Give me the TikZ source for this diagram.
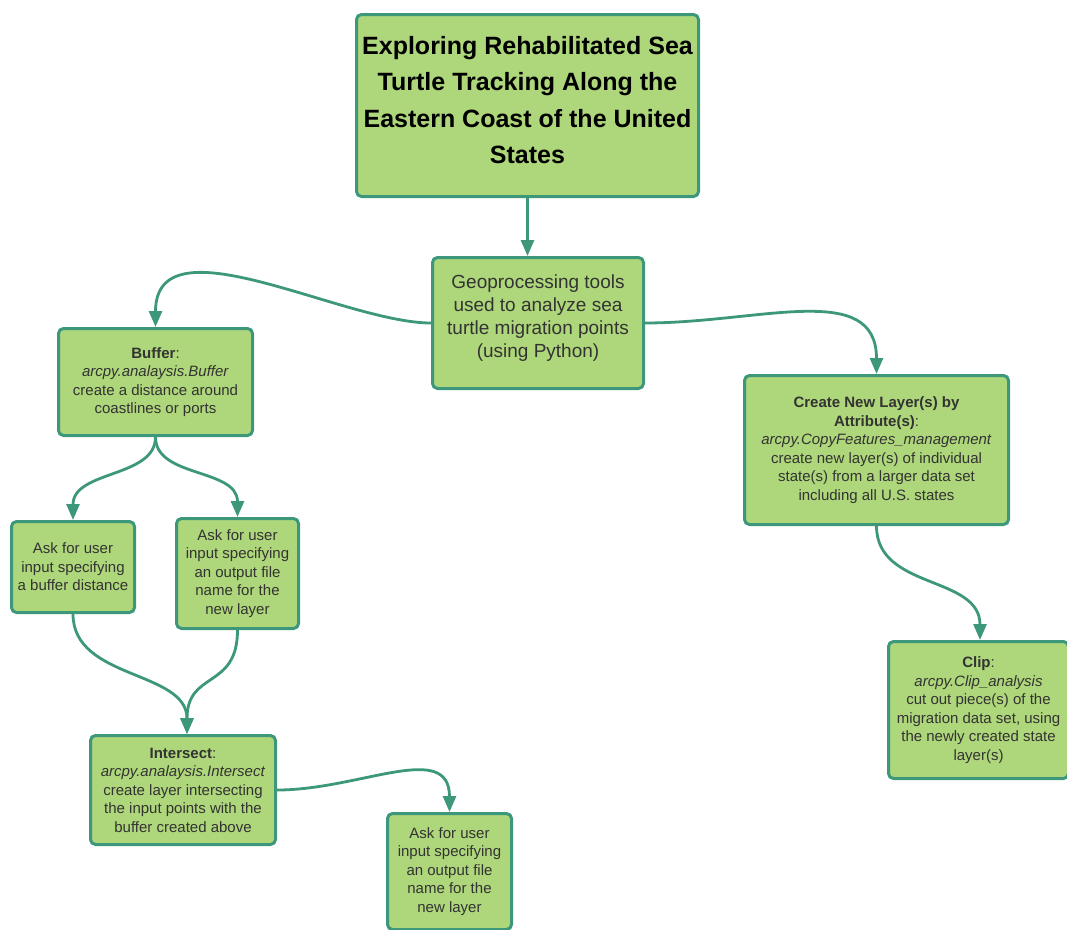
\documentclass[tikz,border=0pt]{standalone}
\usepackage{fontspec}
\setmainfont{Liberation Sans}
\usetikzlibrary{arrows.meta}
\definecolor{boxfill}{HTML}{AED67A}
\definecolor{boxline}{HTML}{3D977B}
\definecolor{txt}{HTML}{333333}
\tikzset{
  box/.style={draw=boxline, fill=boxfill, line width=3pt, rounded corners=5pt,
    align=center, inner sep=0pt, text=txt,
    font=\fontsize{15}{18.5}\selectfont},
  conn/.style={draw=boxline, line width=2.8pt,
    -{Triangle[length=16pt,width=13pt]}},
}
\begin{document}
\begin{tikzpicture}[x=1pt,y=-1pt]
\useasboundingbox (0,0) rectangle (1067,929);

\node[box, minimum width=342pt, minimum height=182pt, text=black,
  font=\bfseries\fontsize{25}{36.5}\selectfont] (title) at (527.5,105.5)
  {Exploring Rehabilitated Sea\\Turtle Tracking Along the\\Eastern Coast of the United\\States\rule[-11pt]{0pt}{0pt}};

\node[box, minimum width=211pt, minimum height=131pt,
  font=\fontsize{19}{23}\selectfont] (geo) at (538,323)
  {Geoprocessing tools\\used to analyze sea\\turtle migration points\\(using Python)\rule[-13pt]{0pt}{0pt}};

\node[box, minimum width=194pt, minimum height=107pt] (buffer) at (155.5,382)
  {\textbf{Buffer}:\\\textit{arcpy.analaysis.Buffer}\\create a distance around\\coastlines or ports};

\node[box, minimum width=123pt, minimum height=91pt] (ask1) at (73,567)
  {Ask for user\\input specifying\\a buffer distance};

\node[box, minimum width=122pt, minimum height=110pt] (ask2) at (237.5,573.5)
  {Ask for user\\input specifying\\an output file\\name for the\\new layer};

\node[box, minimum width=185pt, minimum height=109pt] (inter) at (183,790)
  {\textbf{Intersect}:\\\textit{arcpy.analaysis.Intersect}\\create layer intersecting\\the input points with the\\buffer created above};

\node[box, minimum width=124pt, minimum height=116pt] (ask3) at (449.5,871.5)
  {Ask for user\\input specifying\\an output file\\name for the\\new layer};

\node[box, minimum width=264pt, minimum height=149pt] (create) at (876.5,450)
  {\textbf{Create New Layer(s) by}\\\textbf{Attribute(s)}:\\\textit{arcpy.CopyFeatures\_management}\\create new layer(s) of individual\\state(s) from a larger data set\\including all U.S. states};

\node[box, minimum width=180pt, minimum height=137pt] (clip) at (978.5,710)
  {\textbf{Clip}:\\\textit{arcpy.Clip\_analysis}\\cut out piece(s) of the\\migration data set, using\\the newly created state\\layer(s)};

\draw[conn] (title.south) -- (title.south |- geo.north);
\draw[conn] (geo.west) .. controls +(-88,0) and +(0,-110) .. (buffer.north);
\draw[conn] (geo.east) .. controls +(115,0) and +(0,-94) .. (create.north);
\draw[conn] (buffer.south) .. controls +(0,41) and +(0,-50) .. (ask1.north);
\draw[conn] (buffer.south) .. controls +(0,41) and +(0,-49) .. (ask2.north);
\draw[conn] (ask1.south) .. controls +(0,66) and +(0,-64) .. ([xshift=4pt]inter.north);
\draw[conn] (ask2.south) .. controls +(0,60) and +(0,-64) .. ([xshift=4pt]inter.north);
\draw[conn] (inter.east) .. controls +(83,0) and +(0,-72) .. (ask3.north);
\draw[conn] (create.south) .. controls +(0,64) and +(0,-65) .. ([xshift=1.5pt]clip.north);
\end{tikzpicture}
\end{document}
